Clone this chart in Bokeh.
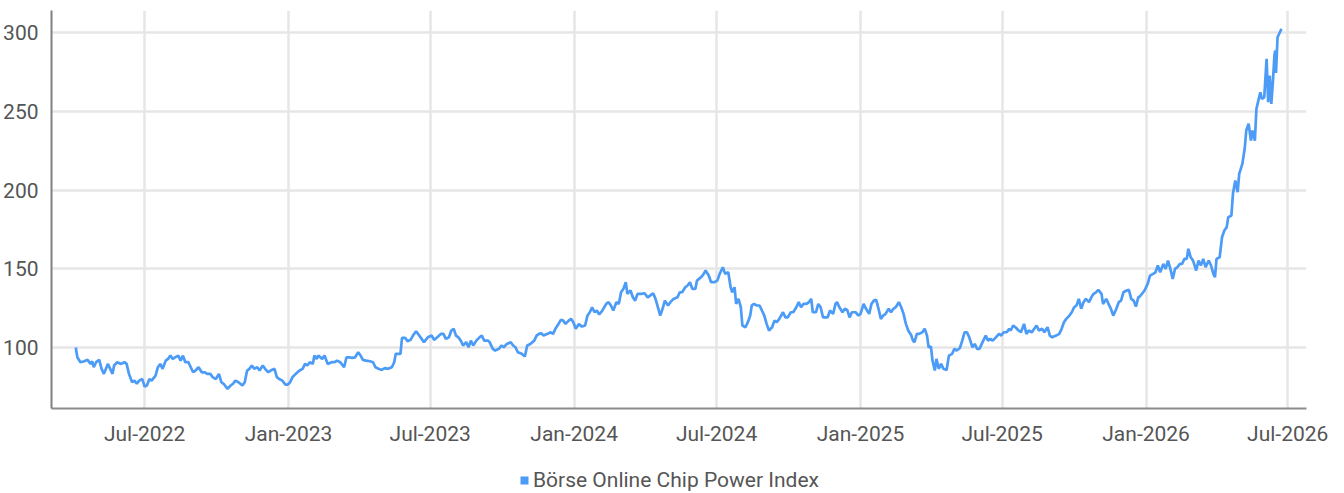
import pandas as pd
from bokeh.plotting import figure
from bokeh.layouts import column
from bokeh.models import (Range1d, FixedTicker, MonthsTicker, DatetimeTickFormatter,
                          Legend, LegendItem, ColumnDataSource)
from bokeh.embed import file_html
from bokeh.resources import INLINE

# ---- data: (days after base_date, index value) ----
base_date = "2022-04-01"
series_name = "Börse Online Chip Power Index"

readings_2022a = [(3,100),(5,93.8),(9,90.7),(14,91.3),(18,92.2),(22,89.6),(24,91.3),(26,87.5),(29,90.7),(33,92.2),
    (36,86.5),(39,83.3),(44,89.6),(47,86.5),(50,83.3),(52,88.6),(56,90.7),(61,89.6),(65,90.7),(68,89.6),
    (71,83.3),(75,78),(78,79),(81,77),(84,79),(88,80),(91,75.2),(94,75.9),(97,80),(100,79),
    (105,82.2),(108,87.5),(111,89.6),(114,86.5),(118,91.7),(121,92.8),(124,94.9),(127,92.8),(130,93.8),(134,94.9),
    (137,91.7),(140,94.9),(143,90.7),(147,90.7),(150,87.5),(153,84.3),(156,85.4),(160,87.5),(164,84.3),(168,84.3),
    (171,83.3),(175,83.3),(178,81.2),(182,80),(186,83.3),(189,78),(192,77),(197,73.8),(201,75.9),(204,77),
    (207,79),(211,78)]
readings_2022b = [(216,75.9),(219,78),(222,85.4),(225,86.5),(228,88.6),(231,86.5),(235,87.5),(238,85.4),(242,88.6),
    (245,86.5),(249,84.3),(252,85.4),(257,86.5),(260,81.2),(263,80),(267,79),(271,76.5),(274,76.5),(277,78),
    (280,81.2),(285,83.7),(289,85.4),(293,86.5),(296,89.6),(299,88.6),(302,90.7),(306,89.6),(308,94.9),(311,92.8),
    (313,94.9),(318,92.8),(321,94.9),(325,89.6),(330,90.7),(334,90.7),(337,91.7),(341,90.7),(346,87.5),(349,93.8),
    (353,93.8),(356,93.4),(360,93.8),(364,97),(367,94.9),(370,92.2),(374,91.7),(379,91.3),(383,90.7),(386,87.5),
    (390,86.5),(394,85.8),(398,86.9),(402,86.5),(407,87.5),(410,90.7),(412,96),(415,96),(418,96),(420,106.2),
    (424,106.2),(427,104),(431,104.9),(434,107.6),(438,110.4),(442,107.6)]
readings_2023 = [(445,105.5),(448,103.4),(453,106.5),(458,107.6),(461,104.9),(465,106.5),(470,108.7),(473,108.7),
    (476,105.5),(480,106.5),(483,110.8),(486,111.9),(489,107.6),(492,106.5),(495,104.4),(498,101.3),(502,103.4),
    (505,100.2),(508,104.4),(511,101.3),(515,104.4),(519,106.5),(522,107.6),(525,104.4),(530,104.4),(532,103.4),
    (536,99.2),(539,98.1),(544,99.2),(547,101.3),(550,100.2),(554,102.3),(559,103.4),(562,101.3),(565,100.2),
    (568,97),(573,96),(577,94.3),(580,101.3),(584,102.3),(589,104.4),(592,107.6),(595,108.7),(598,109.1),
    (601,107.6),(606,108.7),(610,109.7),(613,108.7),(616,111.9),(620,115),(623,117.6),(626,117.1),(629,115),
    (633,117.1),(636,118.2),(639,116.1),(642,111.9),(646,115),(650,113.3),(654,114),(657,120.3),(660,122.4),
    (663,125.6),(666,122.4),(669,123.5),(672,121)]
readings_2024 = [(676,123.5),(681,127.7),(684,128.8),(687,126.7),(690,123.5),(694,128.8),(697,127.7),(700,135.1),
    (703,137.3),(706,141.5),(708,134.1),(712,136.2),(715,131.9),(718,129.8),(721,134.1),(726,134.1),(730,134.5),
    (734,131.9),(737,133),(741,134.5),(744,130.9),(747,125.6),(750,120.3),(753,124.6),(756,129.8),(760,126.7),
    (763,128.8),(767,130.9),(772,131.9),(775,135.1),(778,135.1),(782,138.3),(785,139.4),(788,141.5),(791,137.3),
    (795,137.3),(797,142.5),(802,144.6),(805,146.3),(808,148.9),(812,145.7),(815,141.5),(819,141.5),(823,142.5),
    (826,146.8),(830,151),(833,146.8),(837,147.8),(840,138.3),(842,135.1),(845,138.3),(847,127.7),(850,130.9),
    (853,125.6),(855,114),(859,112.9),(862,116.1),(865,120.3),(867,126.7),(870,127.7),(873,126.7),(877,126.7),
    (880,123.5),(883,120.3),(886,115),(889,110.8),(893,112.9),(896,117.1),(899,116.1),(902,118)]
readings_2025a = [(907,122.4),(910,119.2),(913,119.2),(917,122.4),(920,122.4),(924,125.6),(927,128.8),(930,125.6),
    (933,127.7),(937,127.7),(940,128.8),(943,130.9),(945,122.4),(949,122.4),(952,127.7),(955,125.6),(958,119.2),
    (961,119.2),(964,119.2),(967,123.5),(971,121.4),(974,127.7),(976,128.8),(979,125.6),(983,122.4),(986,124.6),
    (989,123.9),(992,119.2),(995,122.4),(1000,122.4),(1003,120.3),(1006,121.4),(1010,127.7),(1013,124.6),
    (1017,121.4),(1020,127.7),(1023,129.8),(1026,130.3),(1029,124.6),(1032,118.2),(1035,120.3),(1038,121.4),
    (1042,124.6),(1045,122.4),(1048,124.6),(1051,125.6),(1055,128.8),(1058,125.6),(1061,121.4),(1064,115),
    (1067,110.8),(1071,107.6),(1073,104.4),(1075,103.4),(1078,108.7),(1081,108.7),(1085,109.7),(1088,111.9),
    (1091,107.6),(1093,100.2),(1096,100.6),(1098,91.7),(1101,85.4),(1103,92.8),(1106,86.5),(1109,89.6),
    (1112,86.5),(1116,85.8),(1119,94.9),(1123,96),(1126,99.2),(1129,98.1),(1133,99.7)]
readings_2025b = [(1136,104.4),(1139,109.7),(1142,109.7),(1145,106.5),(1149,100.2),(1152,102.3),(1155,99.2),
    (1158,99.2),(1162,103.4),(1166,107.6),(1169,104.4),(1172,105.5),(1175,104.4),(1179,106.5),(1183,108.7),
    (1186,107.6),(1189,109.7),(1193,109.7),(1196,111.9),(1198,110.8),(1201,114),(1204,112.9),(1208,110.8),
    (1211,109.7),(1215,115),(1218,108.7),(1221,110.8),(1225,109.7),(1228,111.9),(1231,114),(1234,110.8),
    (1238,111.9),(1241,109.7),(1245,112.9),(1248,107.6),(1251,106.5),(1256,107.6),(1260,108.7),(1263,111.9),
    (1266,116.1),(1269,118.2),(1273,120.3),(1276,122.4),(1279,125.6),(1282,126.7),(1285,130.9),(1288,124.6),
    (1291,128.8),(1294,130.9),(1298,128.8),(1301,131.9),(1304,134.1),(1307,135.1),(1310,136.6),(1314,134.1),
    (1316,127.7),(1320,130.9),(1323,127.7),(1326,124.6),(1329,120.3),(1333,124.6),(1336,128.8),(1339,129.8),
    (1342,135.1),(1346,136.2),(1349,136.6),(1352,130.9),(1355,129.8),(1358,126),(1361,131.9),(1363,132.4)]
readings_2026 = [(1369,136.2),(1373,140.4),(1376,145.7),(1380,146.8),(1383,147.8),(1386,152.1),(1389,147.8),
    (1393,153.1),(1396,150),(1399,155.2),(1402,150),(1405,143.6),(1408,150),(1411,151),(1414,153.1),(1417,153.1),
    (1420,156.3),(1423,156.3),(1425,162.7),(1428,157.3),(1431,155.2),(1435,148.9),(1438,155.2),(1441,152.1),
    (1444,156.3),(1447,151),(1451,155.2),(1454,152.1),(1457,146.8),(1459,144.6),(1461,156.3),(1465,157.3),
    (1468,170),(1471,174.3),(1474,176.4),(1476,182.7),(1480,183.8),(1482,197.6),(1485,206),(1488,198.6),
    (1490,210.3),(1494,216.6),(1497,226.2),(1499,237.8),(1502,242.1),(1505,231.4),(1507,237.8),(1510,231.4),
    (1512,251.5),(1514,255.8),(1517,262.1),(1519,257.9),(1522,258.9),(1525,283.3),(1527,255.8),(1529,272.7),
    (1531,254.7),(1533,268.4),(1535,285.4),(1536,288.6),(1537,274.4),(1539,297),(1542,300.2),(1544,302.3)]

y_ticks = [100, 150, 200, 250, 300]
x_start, x_end = "2022-03-04", "2026-07-25"
y_start, y_end = 61.3, 314

readings = (readings_2022a + readings_2022b + readings_2023 + readings_2024 +
            readings_2025a + readings_2025b + readings_2026)
days = [d for d, _ in readings]
values = [v for _, v in readings]
dates = pd.Timestamp(base_date) + pd.to_timedelta(days, unit="D")
src = ColumnDataSource(dict(date=dates, value=values))

BLUE = "#4b9bf7"
TXT = "#555555"
FONT = "Roboto"

p = figure(frame_width=1255, frame_height=398, x_axis_type="datetime", output_backend="svg",
           toolbar_location=None,
           x_range=Range1d(pd.Timestamp(x_start), pd.Timestamp(x_end)),
           y_range=Range1d(y_start, y_end),
           min_border_left=43, min_border_right=30, min_border_top=10, min_border_bottom=45)
p.outline_line_color = None
p.background_fill_color = "white"

p.line("date", "value", source=src, line_color=BLUE, line_width=2.7)

# axes
p.xaxis.ticker = MonthsTicker(months=[0, 6])
p.xaxis.formatter = DatetimeTickFormatter(months="%b-%Y", days="%b-%Y", years="%b-%Y")
p.yaxis.ticker = FixedTicker(ticks=y_ticks)
for ax in (p.xaxis[0], p.yaxis[0]):
    ax.major_tick_line_color = None
    ax.minor_tick_line_color = None
    ax.axis_line_width = 2
    ax.major_label_text_font = FONT
    ax.major_label_text_font_size = "21px"
    ax.major_label_text_color = TXT
p.yaxis.axis_line_color = "#808080"
p.xaxis.axis_line_color = "#8c8c8c"
p.yaxis.major_label_standoff = 7
p.xaxis.major_label_standoff = 7

p.xgrid.ticker = p.xaxis[0].ticker
p.ygrid.ticker = p.yaxis[0].ticker
for g in (p.xgrid[0], p.ygrid[0]):
    g.grid_line_color = "#e6e6e6"
    g.grid_line_width = 2.5

# legend strip underneath (square swatch + series name); the swatch renderer
# sits outside the strip's visible range so only its legend entry shows
lg = figure(width=1336, height=40, output_backend="svg", toolbar_location=None,
            x_range=Range1d(0, 1), y_range=Range1d(0, 1),
            x_axis_location=None, y_axis_location=None,
            min_border_left=0, min_border_right=0, min_border_top=0, min_border_bottom=0)
lg.outline_line_color = None
lg.xgrid.visible = False
lg.ygrid.visible = False
sq = lg.quad(left=[-10], right=[-9], bottom=[-10], top=[-9], color=BLUE, line_width=0)
legend = Legend(items=[LegendItem(label=series_name, renderers=[sq])],
                location=(468, 1), orientation="horizontal",
                glyph_width=10, glyph_height=10, label_standoff=4, label_height=24,
                label_text_font=FONT, label_text_font_size="21px", label_text_color=TXT,
                border_line_color=None, background_fill_alpha=0, padding=0, spacing=0, margin=0)
lg.add_layout(legend)

layout = column(p, lg, spacing=0)
open("out.html", "w").write(file_html(layout, INLINE))
